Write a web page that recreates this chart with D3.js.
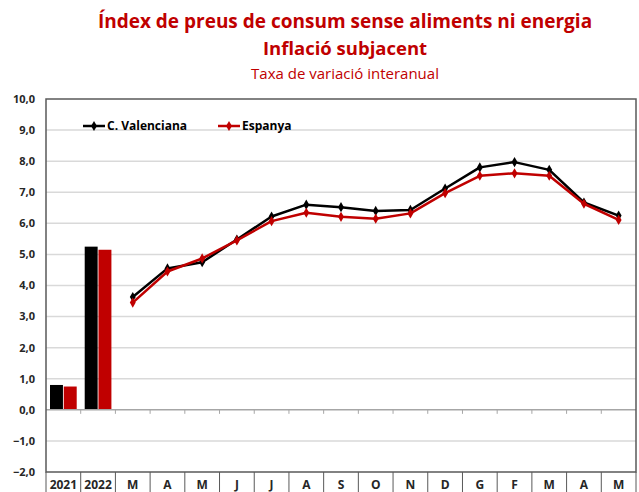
<!DOCTYPE html>
<html>
<head>
<meta charset="utf-8">
<script src="https://cdn.jsdelivr.net/npm/d3@7"></script>
<style>
  body { margin: 0; background: #fff; }
  svg { display: block; font-family: "Open Sans", sans-serif; }
</style>
</head>
<body>
<div id="chart"></div>
<script>
// categories: two annual bars then monthly points
var categories = ["2021", "2022", "M", "A", "M", "J", "J", "A", "S", "O", "N", "D", "G", "F", "M", "A", "M"];
var barCategories = ["2021", "2022"];
var seriesNames = ["C. Valenciana", "Espanya"];
var seriesColors = ["#000000", "#c00000"];
var barValuesCV = [0.8, 5.25];
var barValuesES = [0.75, 5.15];
var lineValuesCV = [3.63, 4.55, 4.75, 5.48, 6.22, 6.6, 6.52, 6.4, 6.43, 7.12, 7.8, 7.97, 7.72, 6.67, 6.25];
var lineValuesES = [3.45, 4.45, 4.87, 5.45, 6.07, 6.34, 6.21, 6.15, 6.32, 6.97, 7.53, 7.61, 7.53, 6.63, 6.11];
var yTicks = [-2, -1, 0, 1, 2, 3, 4, 5, 6, 7, 8, 9, 10];

var width = 639, height = 492;
var margin = {top: 99, right: 3, bottom: 20, left: 46};

var svg = d3.select("#chart")
  .append("svg")
    .attr("width", width)
    .attr("height", height);

var x = d3.scaleBand()
    .domain(d3.range(categories.length))
    .range([margin.left, width - margin.right])
    .padding(0);

var y = d3.scaleLinear()
    .domain([-2, 10])
    .range([height - margin.bottom, margin.top]);

// titles
var red = "#c00000";
svg.append("text")
    .attr("x", 345).attr("y", 28)
    .attr("text-anchor", "middle")
    .attr("fill", red)
    .style("font-size", "19px").style("font-weight", "bold")
    .text("Índex de preus de consum sense aliments ni energia");
svg.append("text")
    .attr("x", 345).attr("y", 55)
    .attr("text-anchor", "middle")
    .attr("fill", red)
    .style("font-size", "18.5px").style("font-weight", "bold")
    .text("Inflació subjacent");
svg.append("text")
    .attr("x", 345).attr("y", 79)
    .attr("text-anchor", "middle")
    .attr("fill", red)
    .style("font-size", "15px")
    .text("Taxa de variació interanual");

// gridlines
svg.append("g")
  .selectAll("line")
  .data(yTicks.filter(function(d) { return d != 0 && d != -2 && d != 10; }))
  .enter()
  .append("line")
    .attr("x1", margin.left).attr("x2", width - margin.right)
    .attr("y1", function(d) { return y(d); })
    .attr("y2", function(d) { return y(d); })
    .attr("stroke", "#d9d9d9")
    .attr("stroke-width", 1.5);

// y tick labels
svg.append("g")
  .selectAll("text")
  .data(yTicks)
  .enter()
  .append("text")
    .attr("x", 35)
    .attr("y", function(d) { return y(d); })
    .attr("dy", "0.35em")
    .attr("text-anchor", "end")
    .attr("fill", "#262626")
    .style("font-size", "11px").style("font-weight", "bold")
    .text(function(d) { return d3.format(".1f")(d).replace(".", ","); });

// bars
var xSub = d3.scaleBand()
    .domain([0, 1])
    .range([4, x.bandwidth() - 4])
    .paddingInner(0.06);

[barValuesCV, barValuesES].forEach(function(vals, s) {
  svg.append("g")
    .selectAll("rect")
    .data(vals)
    .enter()
    .append("rect")
      .attr("x", function(d, i) { return x(categories.indexOf(barCategories[i])) + xSub(s); })
      .attr("width", xSub.bandwidth())
      .attr("y", function(d) { return y(d); })
      .attr("height", function(d) { return y(0) - y(d); })
      .attr("fill", seriesColors[s]);
});

// zero line with small ticks
svg.append("line")
    .attr("x1", margin.left).attr("x2", width - margin.right)
    .attr("y1", y(0)).attr("y2", y(0))
    .attr("stroke", "#a6a6a6").attr("stroke-width", 1.5);
svg.append("g")
  .selectAll("line")
  .data(d3.range(1, categories.length))
  .enter()
  .append("line")
    .attr("x1", function(d) { return x(d); })
    .attr("x2", function(d) { return x(d); })
    .attr("y1", y(0)).attr("y2", y(0) + 4)
    .attr("stroke", "#a6a6a6").attr("stroke-width", 1);

// lines
var line = d3.line()
    .x(function(d, i) { return x(i + 2) + x.bandwidth() / 2; })
    .y(function(d) { return y(d); });

var diamond = d3.symbol().type(d3.symbolDiamond).size(30);

[lineValuesCV, lineValuesES].forEach(function(vals, s) {
  svg.append("path")
    .datum(vals)
    .attr("fill", "none")
    .attr("stroke", seriesColors[s])
    .attr("stroke-width", 2.5)
    .attr("stroke-linejoin", "round")
    .attr("d", line);
  svg.append("g")
    .selectAll("path")
    .data(vals)
    .enter()
    .append("path")
      .attr("d", diamond)
      .attr("fill", seriesColors[s])
      .attr("transform", function(d, i) { return "translate(" + (x(i + 2) + x.bandwidth() / 2) + "," + y(d) + ")"; });
});

// legend
var legendX = [83, 218];
seriesNames.forEach(function(name, s) {
  var g = svg.append("g").attr("transform", "translate(" + legendX[s] + ",126)");
  g.append("line")
    .attr("x1", 0).attr("x2", 22)
    .attr("stroke", seriesColors[s]).attr("stroke-width", 2.5);
  g.append("path")
    .attr("d", diamond)
    .attr("transform", "translate(11,0)")
    .attr("fill", seriesColors[s]);
  g.append("text")
    .attr("x", 24).attr("dy", "0.35em")
    .attr("fill", "#000")
    .style("font-size", "12px").style("font-weight", "bold")
    .text(name);
});

// plot border
svg.append("rect")
    .attr("x", margin.left).attr("y", margin.top)
    .attr("width", width - margin.right - margin.left)
    .attr("height", height - margin.bottom - margin.top)
    .attr("fill", "none")
    .attr("stroke", "#595959")
    .attr("stroke-width", 1.5);

// category table below the plot
svg.append("g")
  .selectAll("line")
  .data(d3.range(0, categories.length + 1))
  .enter()
  .append("line")
    .attr("x1", function(d) { return d == categories.length ? width - margin.right : x(d); })
    .attr("x2", function(d) { return d == categories.length ? width - margin.right : x(d); })
    .attr("y1", height - margin.bottom).attr("y2", height)
    .attr("stroke", "#595959").attr("stroke-width", 1);

svg.append("g")
  .selectAll("text")
  .data(categories)
  .enter()
  .append("text")
    .attr("x", function(d, i) { return x(i) + x.bandwidth() / 2; })
    .attr("y", height - 3)
    .attr("text-anchor", "middle")
    .attr("fill", "#262626")
    .style("font-size", "12px").style("font-weight", "bold")
    .text(function(d) { return d; });
</script>
</body>
</html>
